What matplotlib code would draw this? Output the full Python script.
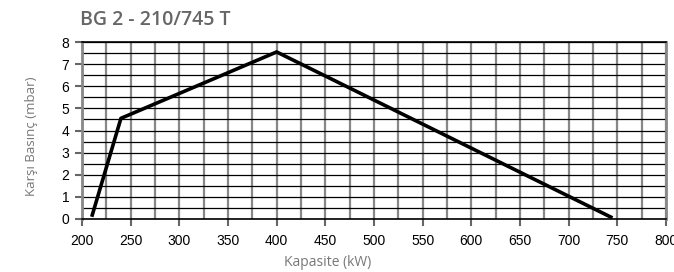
import numpy as np
import matplotlib.pyplot as plt
from matplotlib.ticker import MultipleLocator

# curve
capacity = [210, 240, 400, 745]
pressure = [0.1, 4.55, 7.55, 0.05]

title = "BG 2 - 210/745 T"
x_label = "Kapasite (kW)"
y_label = "Karşı Basınç (mbar)"

plt.rcParams["font.family"] = ["Liberation Sans", "DejaVu Sans"]

fig = plt.figure(figsize=(6.74, 2.72), dpi=100)
ax = fig.add_axes([82 / 674, 1 - 219 / 272, 584 / 674, 177 / 272])

ax.set_xlim(200, 800)
ax.set_ylim(0, 8)
ax.xaxis.set_major_locator(MultipleLocator(50))
ax.xaxis.set_minor_locator(MultipleLocator(25))
ax.yaxis.set_major_locator(MultipleLocator(1))
ax.yaxis.set_minor_locator(MultipleLocator(0.5))

ax.grid(which="both", axis="x", color="#888888", linewidth=1.6)
ax.grid(which="both", axis="y", color="black", linewidth=0.9)
ax.set_axisbelow(True)

ax.plot(capacity, pressure, color="black", linewidth=2.6, solid_capstyle="butt", zorder=3)

for s in ax.spines.values():
    s.set_linewidth(1.2)
ax.spines["left"].set_color("#888888")
ax.spines["left"].set_linewidth(2)
ax.spines["right"].set_color("#888888")
ax.spines["right"].set_linewidth(2)

ax.tick_params(which="major", length=5, width=1.5, color="#666666", labelsize=10)
ax.tick_params(which="minor", length=0)
ax.tick_params(axis="x", pad=6)
ax.tick_params(axis="y", pad=4)

# axis titles placed in figure pixels, as in the reference
fig.text(328 / 674, 1 - 263 / 272, x_label, color="#777777", fontsize=10,
         family="Open Sans", ha="center", va="center")
fig.text(31 / 674, 1 - 136 / 272, y_label, color="#777777", fontsize=9.5,
         family="Open Sans", ha="center", va="center", rotation=90)

fig.text(80 / 674, 1 - 20 / 272, title, color="#666666", fontsize=14, fontweight="semibold",
         family="Open Sans", va="center", ha="left")

plt.savefig("out.png", dpi=100)
